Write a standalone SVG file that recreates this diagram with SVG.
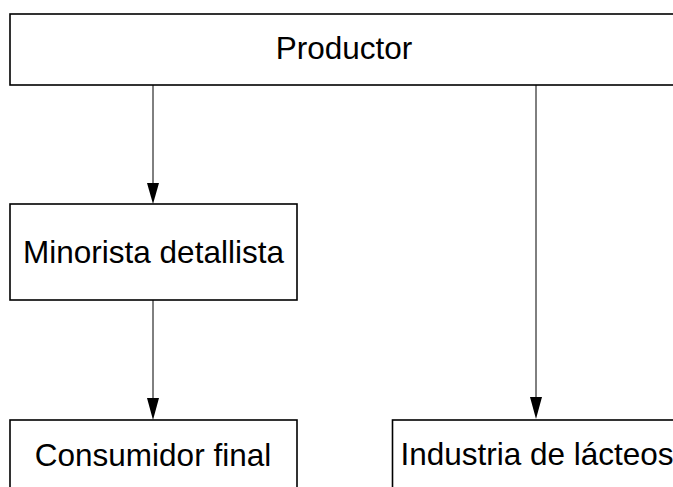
<svg xmlns="http://www.w3.org/2000/svg" width="673" height="487" viewBox="0 0 673 487">
<style>
.box{fill:#fff;stroke:#000;stroke-width:1.6}
.lbl{font-family:"Liberation Sans",Arial,sans-serif;font-size:31.5px;fill:#000;text-anchor:middle}
.edge{stroke:#000;stroke-width:1;fill:none}
.head{fill:#000;stroke:none}
</style>
<g id="connectors">
<line class="edge" x1="153" y1="85" x2="153" y2="190"/>
<polygon class="head" points="147,183 159,183 153,204"/>
<line class="edge" x1="153" y1="300" x2="153" y2="405"/>
<polygon class="head" points="147,398 159,398 153,420"/>
<line class="edge" x1="536" y1="85" x2="536" y2="405"/>
<polygon class="head" points="530,397 542,397 536,419"/>
</g>
<g id="productor">
<rect class="box" x="10" y="14" width="674" height="71"/>
<text class="lbl" x="344" y="59">Productor</text>
</g>
<g id="minorista">
<rect class="box" x="10" y="204" width="287" height="96"/>
<text class="lbl" x="153.5" y="263">Minorista detallista</text>
</g>
<g id="consumidor">
<rect class="box" x="10" y="420" width="287" height="80"/>
<text class="lbl" x="153" y="466">Consumidor final</text>
</g>
<g id="industria">
<rect class="box" x="392.5" y="420" width="287" height="80"/>
<text class="lbl" x="537" y="465">Industria de lácteos</text>
</g>
</svg>
